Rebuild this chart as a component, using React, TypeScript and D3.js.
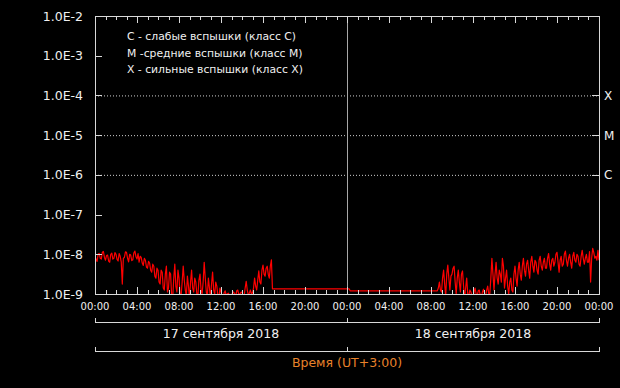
import React, { useEffect, useRef } from "react";
import * as d3 from "d3";

// y axis: decades of flux (W/m2)
const decadeExps = [-2, -3, -4, -5, -6, -7, -8, -9];
const decadeLabels = ["1.0E-2", "1.0E-3", "1.0E-4", "1.0E-5", "1.0E-6", "1.0E-7", "1.0E-8", "1.0E-9"];

// flare class levels
const classLabels = ["X", "M", "C"];
const classExps = [-4, -5, -6];

const legendLines = [
  "C - слабые вспышки (класс C)",
  "M -средние вспышки (класс M)",
  "X - сильные вспышки (класс X)",
];

// x axis, hours from 17 Sep 00:00
const xTickHours = [0, 4, 8, 12, 16, 20, 24, 28, 32, 36, 40, 44, 48];
const xTickLabels = ["00:00", "04:00", "08:00", "12:00", "16:00", "20:00", "00:00", "04:00", "08:00", "12:00", "16:00", "20:00", "00:00"];
const dayLabels = ["17 сентября 2018", "18 сентября 2018"];
const axisTitle = "Время (UT+3:00)";

// log10 of flux (6 min steps)
const day1Start = 0;
const day1Step = 0.1;
const day1Log = [
  -8.05, -8.12, -8.18, -8.0, -7.98, -8.1, -8.12, -7.95, -7.93, -8.08,
  -8.15, -8.03, -8.02, -8.17, -8.2, -8.0, -7.97, -8.12, -8.1, -7.96,
  -8.0, -8.13, -8.17, -7.98, -8.05, -8.2, -8.75, -8.1, -8.08, -7.94,
  -7.95, -8.1, -8.19, -8.0, -8.02, -8.16, -8.14, -7.97, -7.92, -8.06,
  -8.12, -7.98, -8.2, -8.05, -8.08, -8.22, -8.28, -8.1, -8.15, -8.32,
  -8.35, -8.18, -8.22, -8.4, -8.45, -8.25, -8.3, -8.55, -8.6, -8.35,
  -8.4, -8.7, -8.75, -8.4, -8.45, -8.85, -8.9, -8.5, -8.3, -8.95,
  -8.85, -8.45, -8.5, -9.05, -9.1, -8.6, -8.25, -8.8, -8.95, -8.4,
  -8.6, -9.0, -9.05, -8.7, -8.3, -8.65, -8.9, -9.05, -8.55, -8.8,
  -9.1, -8.7, -8.4, -8.85, -8.95, -8.6, -8.7, -9.0, -9.05, -8.65,
  -8.5, -8.9, -9.0, -8.7, -8.2, -8.6, -8.95, -9.05, -8.6, -8.85,
  -9.1, -8.75, -8.45, -8.9, -9.0, -8.7, -8.8, -9.05, -9.1, -8.85,
  -8.95, -9.05, -9.1, -8.97, -8.92, -9.05, -9.0, -8.98, -9.02, -9.05,
  -9.02, -8.98, -8.95, -9.0, -9.05, -8.92, -8.9, -9.02, -9.0, -8.96,
  -8.95, -9.05, -9.05, -8.85, -8.68, -8.9, -9.02, -8.98, -8.9, -9.0,
  -8.97, -8.85, -8.6, -8.8, -8.9, -8.65, -8.42, -8.7, -8.75, -8.4,
  -8.27, -8.5, -8.55, -8.35, -8.3, -8.5, -8.6, -8.3, -8.14,
];

const quietHours = [16.9, 20.0, 24.2, 24.3, 28.0, 32.5];
const quietLog = [-8.87, -8.87, -8.87, -8.92, -8.92, -8.92];

const day2Start = 32.6;
const day2Step = 0.1;
const day2Log = [
  -8.92, -8.85, -8.7, -8.9,
  -8.95, -8.6, -8.4, -8.75, -9.05, -8.5, -8.27, -8.6, -8.9, -8.55,
  -8.5, -8.35, -8.3, -8.7, -9.0, -8.6, -8.4, -8.7, -8.95, -8.5,
  -8.42, -8.8, -9.1, -8.85, -8.6, -9.0, -9.05, -8.9, -8.95, -9.05,
  -9.1, -8.95, -8.85, -9.0, -9.05, -8.92, -8.9, -9.05, -9.1, -8.95,
  -8.88, -9.0, -9.05, -8.9, -8.8, -9.0, -9.0, -8.6, -8.1, -8.5,
  -8.9, -8.5, -8.2, -8.6, -8.75, -8.4, -8.5, -8.7, -8.1, -8.3,
  -8.85, -8.6, -8.4, -8.8, -9.0, -8.7, -8.6, -8.9, -8.95, -8.5,
  -8.3, -8.6, -8.8, -8.4, -8.2, -8.5, -8.65, -8.3, -8.1, -8.4,
  -8.55, -8.25, -8.15, -8.4, -8.6, -8.2, -8.05, -8.3, -8.45, -8.15,
  -8.2, -8.4, -8.5, -8.15, -8.05, -8.3, -8.4, -8.2, -8.1, -8.35,
  -8.35, -8.1, -7.98, -8.25, -8.4, -8.15, -8.1, -8.3, -8.2, -8.0,
  -7.95, -8.2, -8.45, -8.15, -8.05, -8.3, -8.25, -8.0, -7.92, -8.15,
  -8.3, -8.1, -8.0, -8.2, -8.35, -8.05, -7.95, -8.15, -8.2, -8.0,
  -8.05, -8.25, -8.3, -8.05, -7.9, -8.1, -8.25, -8.1, -8.0, -8.2,
  -8.2, -7.93, -8.7, -8.1, -7.85, -7.95, -8.1, -8.05, -8.15, -7.9,
  -8.15,
];

const W = 620;
const H = 388;
const margin = { top: 16, right: 21, bottom: 94, left: 95 };
const font = "'DejaVu Sans', Verdana, sans-serif";

export default function App() {
  const ref = useRef<SVGSVGElement>(null);

  useEffect(() => {
    document.body.style.margin = "0";
    document.body.style.background = "#000";

    const svg = d3.select(ref.current);
    svg.selectAll("*").remove();

    const x0 = margin.left;
    const x1 = W - margin.right;
    const y0 = margin.top;
    const y1 = H - margin.bottom;

    const x = d3.scaleLinear().domain([0, 48]).range([x0, x1]);
    const y = d3.scaleLog().domain([1e-9, 1e-2]).range([y1, y0]);

    const points: [number, number][] = [];
    day1Log.forEach((v, i) => points.push([day1Start + i * day1Step, v]));
    quietLog.forEach((v, i) => points.push([quietHours[i], v]));
    day2Log.forEach((v, i) => points.push([day2Start + i * day2Step, v]));

    const axisColor = "#d8d8d8";

    // dotted class levels
    svg
      .append("g")
      .selectAll("line")
      .data(classExps)
      .join("line")
      .attr("x1", x0)
      .attr("x2", x1)
      .attr("y1", (d) => y(Math.pow(10, d)) + 0.5)
      .attr("y2", (d) => y(Math.pow(10, d)) + 0.5)
      .attr("stroke", "#cfcfcf")
      .attr("stroke-dasharray", "1,2");

    // midnight separator
    svg
      .append("line")
      .attr("x1", x(24) + 0.5)
      .attr("x2", x(24) + 0.5)
      .attr("y1", y0)
      .attr("y2", y1)
      .attr("stroke", "#a8a8a8");

    // data
    svg
      .append("clipPath")
      .attr("id", "plot-clip")
      .append("rect")
      .attr("x", x0)
      .attr("y", y0)
      .attr("width", x1 - x0)
      .attr("height", y1 - y0);

    const line = d3
      .line<[number, number]>()
      .x((d) => x(d[0]))
      .y((d) => y(Math.pow(10, d[1])));

    svg
      .append("path")
      .attr("clip-path", "url(#plot-clip)")
      .attr("fill", "none")
      .attr("stroke", "#ff0000")
      .attr("stroke-width", 1.2)
      .attr("stroke-linejoin", "round")
      .attr("d", line(points));

    // frame
    const frame = svg.append("g").attr("stroke", axisColor).attr("fill", "none");
    frame.append("rect").attr("x", x0 + 0.5).attr("y", y0 + 0.5).attr("width", x1 - x0).attr("height", y1 - y0);

    // hourly ticks on top and bottom, inward
    const hours = d3.range(0, 49);
    frame
      .selectAll("line.bt")
      .data(hours)
      .join("line")
      .attr("x1", (d) => Math.round(x(d)) + 0.5)
      .attr("x2", (d) => Math.round(x(d)) + 0.5)
      .attr("y1", y1)
      .attr("y2", (d) => y1 - (d % 4 === 0 ? 7 : 4));
    frame
      .selectAll("line.tt")
      .data(hours)
      .join("line")
      .attr("x1", (d) => Math.round(x(d)) + 0.5)
      .attr("x2", (d) => Math.round(x(d)) + 0.5)
      .attr("y1", y0)
      .attr("y2", (d) => y0 + (d % 4 === 0 ? 7 : 4));

    // decade ticks on the left, class ticks on the right
    frame
      .selectAll("line.lt")
      .data(decadeExps)
      .join("line")
      .attr("x1", x0)
      .attr("x2", x0 + 7)
      .attr("y1", (d) => Math.round(y(Math.pow(10, d))) + 0.5)
      .attr("y2", (d) => Math.round(y(Math.pow(10, d))) + 0.5);
    frame
      .selectAll("line.rt")
      .data(classExps)
      .join("line")
      .attr("x1", x1)
      .attr("x2", x1 - 7)
      .attr("y1", (d) => Math.round(y(Math.pow(10, d))) + 0.5)
      .attr("y2", (d) => Math.round(y(Math.pow(10, d))) + 0.5);

    // y labels
    svg
      .append("g")
      .selectAll("text")
      .data(decadeExps)
      .join("text")
      .attr("x", 83)
      .attr("y", (d) => y(Math.pow(10, d)) + 4.5)
      .attr("text-anchor", "end")
      .attr("fill", "#f0f0f0")
      .attr("font-family", font)
      .attr("font-size", 12.5)
      .text((d, i) => decadeLabels[i]);

    // class letters
    svg
      .append("g")
      .selectAll("text")
      .data(classExps)
      .join("text")
      .attr("x", 604)
      .attr("y", (d) => y(Math.pow(10, d)) + 4.5)
      .attr("fill", "#f0f0f0")
      .attr("font-family", font)
      .attr("font-size", 12)
      .text((d, i) => classLabels[i]);

    // legend
    svg
      .append("g")
      .selectAll("text")
      .data(legendLines)
      .join("text")
      .attr("x", 127)
      .attr("y", (d, i) => 40 + i * 16.5)
      .attr("fill", "#f0f0f0")
      .attr("font-family", font)
      .attr("font-size", 10.8)
      .text((d) => d);

    // x labels
    svg
      .append("g")
      .selectAll("text")
      .data(xTickHours)
      .join("text")
      .attr("x", (d) => x(d))
      .attr("y", 310)
      .attr("text-anchor", "middle")
      .attr("fill", "#f0f0f0")
      .attr("font-family", font)
      .attr("font-size", 10)
      .text((d, i) => xTickLabels[i]);

    // day brackets
    const bracket = (yy: number) => {
      const g = svg.append("g").attr("stroke", axisColor).attr("fill", "none");
      g.append("line").attr("x1", x0).attr("x2", x1 + 1).attr("y1", yy + 0.5).attr("y2", yy + 0.5);
      [0, 24, 48].forEach((h) => {
        g.append("line")
          .attr("x1", Math.round(x(h)) + 0.5)
          .attr("x2", Math.round(x(h)) + 0.5)
          .attr("y1", yy + 0.5)
          .attr("y2", yy - 4);
      });
    };
    bracket(322);
    bracket(351);

    svg
      .append("g")
      .selectAll("text")
      .data(dayLabels)
      .join("text")
      .attr("x", (d, i) => x(i * 24 + 12))
      .attr("y", 338)
      .attr("text-anchor", "middle")
      .attr("fill", "#f0f0f0")
      .attr("font-family", font)
      .attr("font-size", 12.5)
      .text((d) => d);

    svg
      .append("text")
      .attr("x", x(24))
      .attr("y", 367)
      .attr("text-anchor", "middle")
      .attr("fill", "#e8822a")
      .attr("font-family", font)
      .attr("font-size", 12.5)
      .text(axisTitle);
  }, []);

  return (
    <div style={{ position: "fixed", left: 0, top: 0, width: W, height: H, background: "#000" }}>
      <svg ref={ref} width={W} height={H} viewBox={`0 0 ${W} ${H}`} style={{ display: "block" }} />
    </div>
  );
}
